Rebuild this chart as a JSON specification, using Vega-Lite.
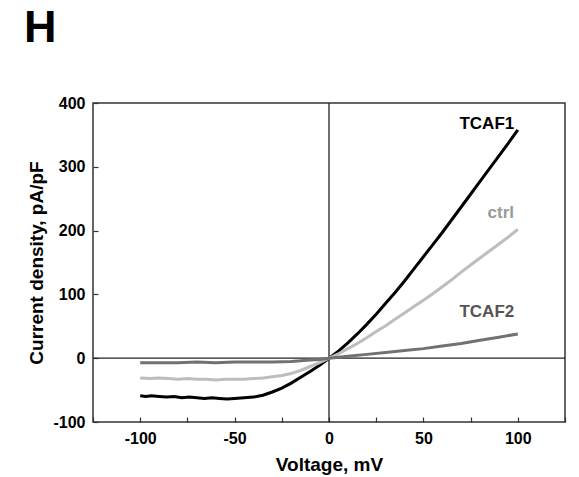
{
  "$schema": "https://vega.github.io/schema/vega-lite/v6.json",
  "width": 472,
  "height": 319,
  "autosize": "none",
  "padding": {"left": 93, "top": 103, "right": 14, "bottom": 55},
  "background": "white",
  "config": {
    "view": {"stroke": "#333", "strokeWidth": 1.5},
    "font": "Liberation Sans",
    "axis": {"labelFont": "Liberation Sans", "titleFont": "Liberation Sans"}
  },
  "title": {
    "text": "H", "fontSize": 45, "fontWeight": "bold", "font": "Liberation Sans",
    "anchor": "start", "frame": "group", "dx": -69, "offset": 8, "baseline": "alphabetic", "color": "black"
  },
  "datasets": {
    "curves": [
      {"s": "TCAF1", "v": -100, "i": -59}, {"s": "TCAF1", "v": -97, "i": -60}, {"s": "TCAF1", "v": -94, "i": -59}, {"s": "TCAF1", "v": -90, "i": -60},
      {"s": "TCAF1", "v": -86, "i": -61}, {"s": "TCAF1", "v": -82, "i": -60}, {"s": "TCAF1", "v": -78, "i": -62}, {"s": "TCAF1", "v": -74, "i": -61},
      {"s": "TCAF1", "v": -70, "i": -62}, {"s": "TCAF1", "v": -66, "i": -63}, {"s": "TCAF1", "v": -62, "i": -62}, {"s": "TCAF1", "v": -58, "i": -63},
      {"s": "TCAF1", "v": -54, "i": -64}, {"s": "TCAF1", "v": -50, "i": -63}, {"s": "TCAF1", "v": -45, "i": -62}, {"s": "TCAF1", "v": -40, "i": -61},
      {"s": "TCAF1", "v": -35, "i": -58}, {"s": "TCAF1", "v": -30, "i": -53}, {"s": "TCAF1", "v": -25, "i": -47}, {"s": "TCAF1", "v": -20, "i": -39},
      {"s": "TCAF1", "v": -15, "i": -30}, {"s": "TCAF1", "v": -10, "i": -21}, {"s": "TCAF1", "v": -5, "i": -11}, {"s": "TCAF1", "v": 0, "i": 0},
      {"s": "TCAF1", "v": 5, "i": 11}, {"s": "TCAF1", "v": 10, "i": 24}, {"s": "TCAF1", "v": 15, "i": 38}, {"s": "TCAF1", "v": 20, "i": 53},
      {"s": "TCAF1", "v": 25, "i": 69}, {"s": "TCAF1", "v": 30, "i": 86}, {"s": "TCAF1", "v": 35, "i": 103}, {"s": "TCAF1", "v": 40, "i": 121},
      {"s": "TCAF1", "v": 45, "i": 140}, {"s": "TCAF1", "v": 50, "i": 159}, {"s": "TCAF1", "v": 55, "i": 178}, {"s": "TCAF1", "v": 60, "i": 197},
      {"s": "TCAF1", "v": 65, "i": 217}, {"s": "TCAF1", "v": 70, "i": 237}, {"s": "TCAF1", "v": 75, "i": 257}, {"s": "TCAF1", "v": 80, "i": 277},
      {"s": "TCAF1", "v": 85, "i": 297}, {"s": "TCAF1", "v": 90, "i": 317}, {"s": "TCAF1", "v": 95, "i": 337}, {"s": "TCAF1", "v": 100, "i": 358},

      {"s": "ctrl", "v": -100, "i": -31}, {"s": "ctrl", "v": -95, "i": -32}, {"s": "ctrl", "v": -90, "i": -31}, {"s": "ctrl", "v": -85, "i": -32},
      {"s": "ctrl", "v": -80, "i": -33}, {"s": "ctrl", "v": -75, "i": -32}, {"s": "ctrl", "v": -70, "i": -33}, {"s": "ctrl", "v": -65, "i": -33},
      {"s": "ctrl", "v": -60, "i": -34}, {"s": "ctrl", "v": -55, "i": -33}, {"s": "ctrl", "v": -50, "i": -33}, {"s": "ctrl", "v": -45, "i": -33},
      {"s": "ctrl", "v": -40, "i": -32}, {"s": "ctrl", "v": -35, "i": -31}, {"s": "ctrl", "v": -30, "i": -29}, {"s": "ctrl", "v": -25, "i": -27},
      {"s": "ctrl", "v": -20, "i": -24}, {"s": "ctrl", "v": -15, "i": -19}, {"s": "ctrl", "v": -10, "i": -13}, {"s": "ctrl", "v": -5, "i": -7},
      {"s": "ctrl", "v": 0, "i": 0}, {"s": "ctrl", "v": 5, "i": 7}, {"s": "ctrl", "v": 10, "i": 15}, {"s": "ctrl", "v": 15, "i": 23},
      {"s": "ctrl", "v": 20, "i": 32}, {"s": "ctrl", "v": 25, "i": 42}, {"s": "ctrl", "v": 30, "i": 51}, {"s": "ctrl", "v": 35, "i": 61},
      {"s": "ctrl", "v": 40, "i": 71}, {"s": "ctrl", "v": 45, "i": 81}, {"s": "ctrl", "v": 50, "i": 91}, {"s": "ctrl", "v": 55, "i": 101},
      {"s": "ctrl", "v": 60, "i": 112}, {"s": "ctrl", "v": 65, "i": 123}, {"s": "ctrl", "v": 70, "i": 135}, {"s": "ctrl", "v": 75, "i": 146},
      {"s": "ctrl", "v": 80, "i": 157}, {"s": "ctrl", "v": 85, "i": 168}, {"s": "ctrl", "v": 90, "i": 179}, {"s": "ctrl", "v": 95, "i": 190},
      {"s": "ctrl", "v": 100, "i": 202},

      {"s": "TCAF2", "v": -100, "i": -7}, {"s": "TCAF2", "v": -90, "i": -7}, {"s": "TCAF2", "v": -80, "i": -7}, {"s": "TCAF2", "v": -70, "i": -6},
      {"s": "TCAF2", "v": -60, "i": -7}, {"s": "TCAF2", "v": -50, "i": -6}, {"s": "TCAF2", "v": -40, "i": -6}, {"s": "TCAF2", "v": -30, "i": -6},
      {"s": "TCAF2", "v": -20, "i": -5}, {"s": "TCAF2", "v": -10, "i": -3}, {"s": "TCAF2", "v": -5, "i": -2}, {"s": "TCAF2", "v": 0, "i": 0},
      {"s": "TCAF2", "v": 10, "i": 3}, {"s": "TCAF2", "v": 20, "i": 6}, {"s": "TCAF2", "v": 30, "i": 9}, {"s": "TCAF2", "v": 40, "i": 12},
      {"s": "TCAF2", "v": 50, "i": 15}, {"s": "TCAF2", "v": 60, "i": 19}, {"s": "TCAF2", "v": 70, "i": 23}, {"s": "TCAF2", "v": 80, "i": 28},
      {"s": "TCAF2", "v": 90, "i": 33}, {"s": "TCAF2", "v": 100, "i": 38}
    ],
    "labels": [
      {"s": "TCAF1", "v": 83.6, "i": 367, "c": "#000000"},
      {"s": "ctrl", "v": 91, "i": 228, "c": "#999999"},
      {"s": "TCAF2", "v": 83.6, "i": 72, "c": "#555555"}
    ],
    "zero": [{"z": 0}]
  },
  "layer": [
    {
      "data": {"name": "zero"},
      "mark": {"type": "rule", "color": "#222", "strokeWidth": 1.3},
      "encoding": {"y": {"field": "z", "type": "quantitative"}}
    },
    {
      "data": {"name": "zero"},
      "mark": {"type": "rule", "color": "#222", "strokeWidth": 1.3},
      "encoding": {"x": {"field": "z", "type": "quantitative"}}
    },
    {
      "data": {"name": "curves"},
      "mark": {"type": "line", "strokeWidth": 3, "interpolate": "linear"},
      "encoding": {
        "x": {
          "field": "v", "type": "quantitative",
          "scale": {"domain": [-125, 125], "nice": false, "zero": false},
          "axis": {
            "title": "Voltage, mV", "titleFontSize": 19, "titleFontWeight": "bold", "titleColor": "black", "titlePadding": 9,
            "values": [-125, -100, -75, -50, -25, 0, 25, 50, 75, 100, 125],
            "labelExpr": "datum.value % 50 === 0 && abs(datum.value) < 125 ? toString(datum.value) : ''",
            "labelFontSize": 16, "labelFontWeight": "bold", "labelColor": "black", "labelPadding": 13,
            "tickSize": -5,
            "tickColor": "#333", "tickWidth": 1.2, "domain": false, "grid": false
          }
        },
        "y": {
          "field": "i", "type": "quantitative",
          "scale": {"domain": [-100, 400], "nice": false, "zero": false},
          "axis": {
            "title": "Current density, pA/pF", "titleFontSize": 19, "titleFontWeight": "bold", "titleColor": "black", "titlePadding": 6,
            "values": [-100, -50, 0, 50, 100, 150, 200, 250, 300, 350, 400],
            "labelExpr": "datum.value % 100 === 0 ? toString(datum.value) : ''",
            "labelFontSize": 16, "labelFontWeight": "bold", "labelColor": "black", "labelPadding": 13,
            "tickSize": -5,
            "tickColor": "#333", "tickWidth": 1.2, "domain": false, "grid": false
          }
        },
        "color": {
          "field": "s", "type": "nominal",
          "scale": {"domain": ["TCAF1", "ctrl", "TCAF2"], "range": ["#000000", "#bdbdbd", "#717171"]},
          "legend": null
        }
      }
    },
    {
      "data": {"name": "labels"},
      "mark": {"type": "text", "fontSize": 17, "fontWeight": "bold", "font": "Liberation Sans", "align": "center", "baseline": "middle"},
      "encoding": {
        "x": {"field": "v", "type": "quantitative"},
        "y": {"field": "i", "type": "quantitative"},
        "text": {"field": "s"},
        "color": {"field": "c", "type": "nominal", "scale": null}
      }
    }
  ]
}
